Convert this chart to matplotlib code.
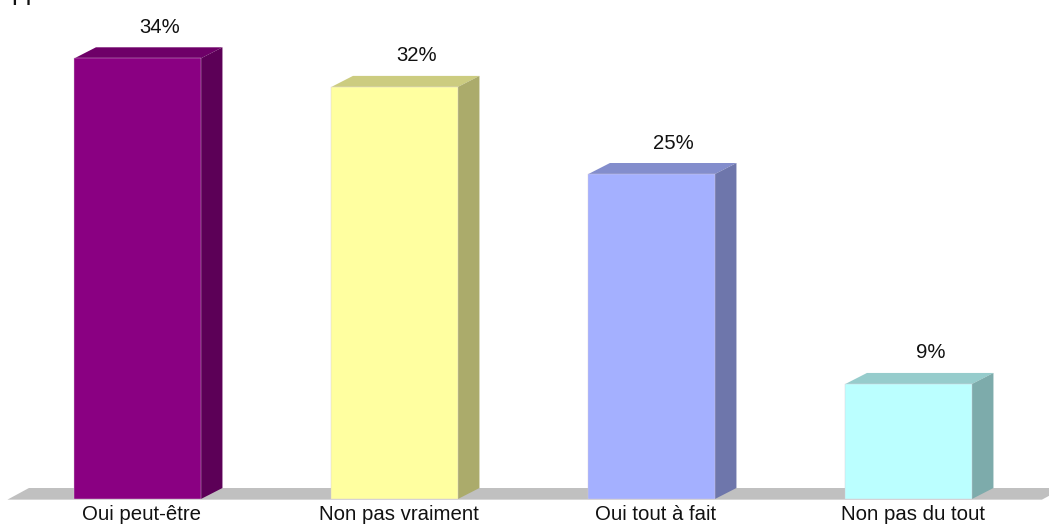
# 3D looking bar chart, drawn by hand with polygons
import numpy as np
import matplotlib
matplotlib.use('Agg')
import matplotlib.pyplot as plt
from matplotlib.colors import to_rgb

plt.rcParams['font.family'] = ['Liberation Sans', 'DejaVu Sans']

categories = ['Oui peut-être', 'Non pas vraiment', 'Oui tout à fait', 'Non pas du tout']
values = [33.9, 31.7, 25.0, 8.85]
value_labels = ['34%', '32%', '25%', '9%']
colors = ['#8A0082', '#FFFFA0', '#A4B0FF', '#BBFFFF']

W, H = 1049, 525
x_step = 257.0   # px between bars
y_step = 13.0    # px per percent
x0, y0 = 138.0, 499.0   # px position of first bar centre / baseline
bar_w = 126.5 / x_step
dx = 21.5 / x_step
dy = 11 / y_step

fig = plt.figure(figsize=(W / 100, H / 100), dpi=100, facecolor='white')
ax = fig.add_axes([0, 0, 1, 1])
ax.set_xlim(-(x0 - 0.3) / x_step, (W - x0 + 0.3) / x_step)
ax.set_ylim(-(H - y0) / y_step, y0 / y_step)
ax.axis('off')

# grey floor
left = -bar_w / 2 - 67 / x_step
right = 3 + bar_w / 2 + 70 / x_step
ax.fill([left, left + dx, right + dx, right], [-0.05, dy, dy, -0.05],
        color='#C0C0C0', lw=0, zorder=1)

xpos = np.arange(len(values))
ax.bar(xpos, values, width=bar_w, color=colors, edgecolor='#D8CCD8', linewidth=0.3, zorder=3)

for x, v, c, lab, cat in zip(xpos, values, colors, value_labels, categories):
    rgb = np.array(to_rgb(c))
    l, r = x - bar_w / 2, x + bar_w / 2
    # top face
    ax.fill([l, l + dx, r + dx, r], [v, v + dy, v + dy, v], color=rgb * 0.8, lw=0, zorder=2)
    # side face
    ax.fill([r, r + dx, r + dx, r], [0, dy, v + dy, v], color=rgb * 0.67, lw=0, zorder=2)
    ax.text(x + 22 / x_step, v + 31 / y_step, lab, ha='center', va='center',
            fontsize=14.6, color='#111111')
    ax.text(x + 4 / x_step, -15 / y_step, cat, ha='center', va='center',
            fontsize=14.7, color='#111111')

# clipped remains of the title at the top edge
ax.text(-126 / x_step, (y0 + 0.5) / y_step, 'pp', ha='left', va='baseline',
        fontsize=19, color='#111111')

fig.savefig('out.png', dpi=100)
